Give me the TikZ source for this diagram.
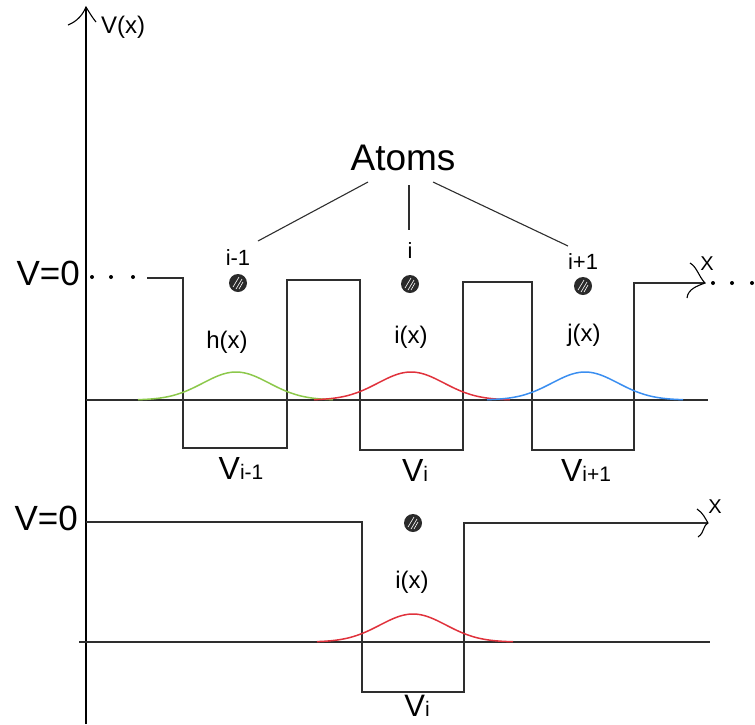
\documentclass[tikz,border=0pt]{standalone}
\usepackage{fontspec}
\setmainfont{Liberation Sans}
\usetikzlibrary{calc}
\newcommand\myfs[1]{\fontsize{#1}{#1}\selectfont}
\definecolor{linegray}{HTML}{2E2E2E}
\definecolor{atomgray}{HTML}{2A2A2A}
\definecolor{wgreen}{HTML}{8CC84B}
\definecolor{wred}{HTML}{E0323C}
\definecolor{wblue}{HTML}{3A8EF0}
\tikzset{
  pot/.style={draw=linegray, line width=1.3pt},
  base/.style={draw=linegray, line width=1.1pt},
  conn/.style={draw=linegray, line width=1.1pt},
  wave/.style={line width=1.5pt},
  atom/.style={circle, fill=atomgray, minimum size=18pt, inner sep=0pt},
  lbl/.style={inner sep=0pt, text=black},
}
\newcommand\hatchatom[1]{%
  \draw[white, line width=0.6pt] ($(#1.center)+(-5,4)$) -- ($(#1.center)+(1,-6)$);
  \draw[white, line width=0.6pt] ($(#1.center)+(-2,6)$) -- ($(#1.center)+(4,-4)$);
  \draw[white, line width=0.6pt] ($(#1.center)+(1,6)$) -- ($(#1.center)+(5,-1)$);
}
\begin{document}
\begin{tikzpicture}[x=1pt, y=-1pt]
\useasboundingbox (0,0) rectangle (755,724);

% vertical axis
\draw[line width=1.2pt] (86,724) -- (86,7);
\draw[line width=1.1pt] (68,25) .. controls (78,21) and (83,14) .. (86,7) .. controls (89,12) and (92,17) .. (96,22);
\node[lbl, anchor=west] (Vx) at (101,27) {\myfs{24}V(x)};

% ---------------- top row ----------------
\node[lbl, anchor=east] (V0a) at (80,273) {\myfs{35}V=0};
\foreach \xx/\nm in {92/d1,111/d2,133/d3}
  \fill[black] (\xx,277) circle (2);
\draw[pot] (147,278) -- (183,278) -- (183,448) -- (287,448) -- (287,280) -- (360,280)
  -- (360,450) -- (463,450) -- (463,282) -- (532,282) -- (532,450) -- (634,450)
  -- (634,283) -- (704,283);
\coordinate (xtip) at (705,283);
\draw[line width=1.1pt] (690,263) .. controls (697,267) and (699,277) .. (xtip) .. controls (697,286) and (688,289) .. (687,298);
\node[lbl] (xa) at (707,264) {\myfs{20}X};
\foreach \xx in {713,732,752}
  \fill[black] (\xx,283) circle (2);

% baseline
\draw[base] (86,400) -- (708,400);

% wavefunctions
\draw[wave, wgreen] plot[domain=138:333, samples=80] (\x, {400-28*exp(-((\x-236)^2)/(2*33^2))});
\draw[wave, wred] plot[domain=314:510, samples=80] (\x, {400-28*exp(-((\x-411)^2)/(2*33^2))});
\draw[wave, wblue] plot[domain=487:683, samples=80] (\x, {400-28*exp(-((\x-585)^2)/(2*33^2))});

% atoms
\node[atom] (a1) at (238,283) {}; \hatchatom{a1}
\node[atom] (a2) at (410,284) {}; \hatchatom{a2}
\node[atom] (a3) at (583,286) {}; \hatchatom{a3}
\node[lbl] (la1) at (238,258) {\myfs{22}i-1};
\node[lbl] (la2) at (410,251) {\myfs{22}i};
\node[lbl] (la3) at (583,262) {\myfs{22}i+1};

\node[lbl] (hx) at (227,342) {\myfs{24}h(x)};
\node[lbl] (ix) at (411,337) {\myfs{24}i(x)};
\node[lbl] (jx) at (584,335) {\myfs{24}j(x)};

\node[lbl] (Vim1) at (241,468) {\myfs{32}V\myfs{21}i-1};
\node[lbl] (Vi) at (415,470) {\myfs{32}V\myfs{21}i};
\node[lbl] (Vip1) at (586,470) {\myfs{32}V\myfs{21}i+1};

% Atoms label and connectors
\node[lbl] (atoms) at (403,158) {\myfs{37}Atoms};
\coordinate (c1s) at (368,182); \coordinate (c1e) at (258,241);
\coordinate (c2s) at (409,185); \coordinate (c2e) at (409,230);
\coordinate (c3s) at (433,182); \coordinate (c3e) at (568,246);
\draw[conn] (c1s) -- (c1e);
\draw[conn] (c2s) -- (c2e);
\draw[conn] (c3s) -- (c3e);

% ---------------- bottom row ----------------
\node[lbl, anchor=east] (V0b) at (78,518) {\myfs{35}V=0};
\draw[pot] (86,522) -- (362,522) -- (362,692) -- (464,692) -- (464,523) -- (707,523);
\coordinate (xtipb) at (708,523);
\draw[line width=1.1pt] (697,509) .. controls (703,513) and (705,518) .. (xtipb) .. controls (702,527) and (705,532) .. (698,537);
\node[lbl] (xb) at (715,507) {\myfs{20}X};
\draw[base] (79,642) -- (710,642);
\draw[wave, wred] plot[domain=317:513, samples=80] (\x, {642-28*exp(-((\x-413)^2)/(2*33^2))});
\node[atom] (b1) at (413,523) {}; \hatchatom{b1}
\node[lbl] (ixb) at (412,582) {\myfs{24}i(x)};
\node[lbl] (Vib) at (417,706) {\myfs{31}V\myfs{21}i};
\end{tikzpicture}
\end{document}
